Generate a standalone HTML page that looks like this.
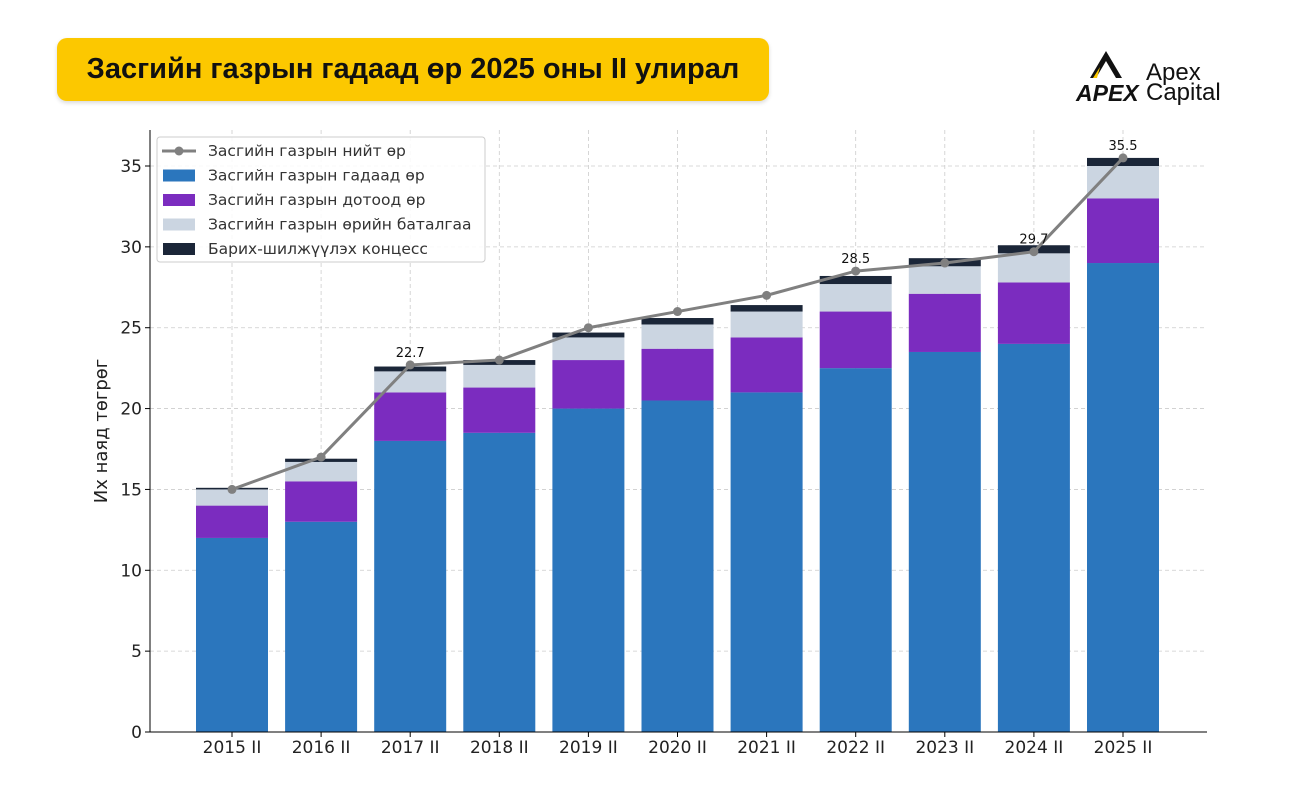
<!DOCTYPE html>
<html><head><meta charset="utf-8">
<style>
body{margin:0;background:#fff;width:1300px;height:787px;overflow:hidden;font-family:"DejaVu Sans","Liberation Sans",sans-serif;}
#title{position:absolute;left:57px;top:38px;width:712px;height:63px;background:#fcc800;border-radius:10px;box-shadow:0 2px 4px rgba(0,0,0,0.15);font-family:"Liberation Sans",sans-serif;font-weight:bold;font-size:29px;line-height:63px;text-align:center;color:#111;}
svg{position:absolute;left:0;top:0;}
</style></head><body>
<div id="title">Засгийн газрын гадаад өр 2025 оны II улирал</div>
<svg id="logo" width="1300" height="787">
<polygon points="1090,78 1106,51 1122,78 1116,78 1106,61 1096,78" fill="#111"/>
<polygon points="1093,78 1100,67 1097,78" fill="#fcc800"/>
<text x="1076" y="101" font-family="Liberation Sans" font-weight="bold" font-style="italic" font-size="23" fill="#111">APEX</text>
<text x="1146" y="80" font-family="Liberation Sans" font-size="24" fill="#111">Apex</text>
<text x="1146" y="100" font-family="Liberation Sans" font-size="24" fill="#111">Capital</text>
</svg>
<svg id="chart" width="1300" height="787"></svg>
<script>
const categories=["2015 II","2016 II","2017 II","2018 II","2019 II","2020 II","2021 II","2022 II","2023 II","2024 II","2025 II"];
const external=[12,13,18,18.5,20,20.5,21,22.5,23.5,24,29];
const domestic=[2,2.5,3,2.8,3,3.2,3.4,3.5,3.6,3.8,4];
const guarantee=[1,1.2,1.3,1.4,1.4,1.5,1.6,1.7,1.7,1.8,2];
const concession=[0.1,0.2,0.3,0.3,0.3,0.4,0.4,0.5,0.5,0.5,0.5];
const total=[15,17,22.7,23,25,26,27,28.5,29,29.7,35.5];
const labeled=[2,7,9,10];
const yTicks=[0,5,10,15,20,25,30,35];
const NS="http://www.w3.org/2000/svg";
const svg=document.getElementById('chart');
const L=150,R=1207,T=130,B=732;
const y=v=>B-v*(566/35);
const x=i=>232+i*89.1;
const bw=72;
function mk(t,a,p){const e=document.createElementNS(NS,t);for(const k in a)e.setAttribute(k,a[k]);(p||svg).appendChild(e);return e;}
yTicks.forEach(t=>{
 const g=mk('line',{x1:L,x2:R,y1:y(t),y2:y(t),stroke:'#ccc','stroke-dasharray':'4,3','stroke-width':0.8});
 
 
 mk('line',{x1:L-5,x2:L,y1:y(t),y2:y(t),stroke:'#000'});
 const tx=mk('text',{x:L-8,y:y(t)+6,'text-anchor':'end','font-size':17,fill:'#222'});tx.textContent=t;
 
 
});
categories.forEach((c,i)=>{
 mk('line',{x1:x(i),x2:x(i),y1:T,y2:B,stroke:'#ccc','stroke-dasharray':'4,3','stroke-width':0.8});
});
const series=[[external,'#2b76bd','bar-external'],[domestic,'#7b2cbf','bar-domestic'],[guarantee,'#cbd5e1','bar-guarantee'],[concession,'#1b2638','bar-concession']];
categories.forEach((c,i)=>{
 let base=0;
 series.forEach(([arr,col,nm])=>{
  const r=mk('rect',{x:x(i)-bw/2,y:y(base+arr[i]),width:bw,height:y(base)-y(base+arr[i]),fill:col});
  
  
  base+=arr[i];
 });
 mk('line',{x1:x(i),x2:x(i),y1:B,y2:B+5,stroke:'#000'});
 const tx=mk('text',{x:x(i),y:B+21,'text-anchor':'middle','font-size':17,fill:'#222'});tx.textContent=c;
 
 
});
mk('line',{x1:L,x2:L,y1:T,y2:B,stroke:'#000'});
mk('line',{x1:L,x2:R,y1:B,y2:B,stroke:'#000'});
const pl=mk('polyline',{points:total.map((v,i)=>x(i)+','+y(v)).join(' '),fill:'none',stroke:'#808080','stroke-width':3});


total.forEach((v,i)=>{
 const c=mk('circle',{cx:x(i),cy:y(v),r:4.5,fill:'#808080'});
 
 
});
labeled.forEach(i=>{
 const t=mk('text',{x:x(i),y:y(total[i])-8,'text-anchor':'middle','font-size':13,fill:'#111'});t.textContent=total[i].toFixed(1);
 
 
});
const yt=mk('text',{transform:'translate(107,431) rotate(-90)','text-anchor':'middle','font-size':18,fill:'#222'});yt.textContent='Их наяд төгрөг';


const lg=mk('g',{});


mk('rect',{x:157,y:137,width:328,height:125,rx:3,fill:'#fff','fill-opacity':0.85,stroke:'#ccc'},lg);
const items=[['line','#808080','Засгийн газрын нийт өр'],['rect','#2b76bd','Засгийн газрын гадаад өр'],['rect','#7b2cbf','Засгийн газрын дотоод өр'],['rect','#cbd5e1','Засгийн газрын өрийн баталгаа'],['rect','#1b2638','Барих-шилжүүлэх концесс']];
items.forEach((it,k)=>{
 const cy=151+k*24.5;
 if(it[0]=='line'){mk('line',{x1:162,x2:196,y1:cy,y2:cy,stroke:it[1],'stroke-width':3},lg);mk('circle',{cx:179,cy:cy,r:4.5,fill:it[1]},lg);}
 else mk('rect',{x:163,y:cy-6,width:32,height:12,fill:it[1]},lg);
 const t=mk('text',{x:208,y:cy+5,'font-size':15.5,fill:'#333'},lg);t.textContent=it[2];
 
 
});
</script>
</body></html>
